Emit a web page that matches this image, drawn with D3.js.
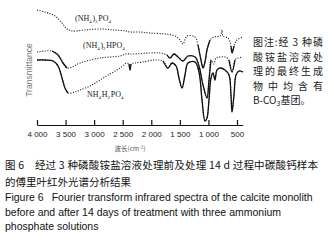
<!DOCTYPE html>
<html>
<head>
<meta charset="utf-8">
<script src="https://cdn.jsdelivr.net/npm/d3@7"></script>
<style>
  body { margin: 0; background: #fff; }
  svg { display: block; }
</style>
</head>
<body>
<div id="chart"></div>
<script>
// wavenumber (cm-1) and transmittance (arbitrary units)
const wnTop = [4000, 3860, 3685, 3562, 3475, 3387, 3160, 2897, 2635, 2442, 2372, 2197, 2022, 1760, 1585, 1497, 1445, 1375, 1235, 1182, 1130, 1095, 1060, 1025, 972, 902, 797, 762, 745, 657, 605, 587, 552, 500, 395];
const tTop  = [115, 113, 109, 102, 96, 94, 95, 96, 95, 94, 93, 93, 92, 91, 89, 85, 81, 89, 88, 80, 65, 57, 63, 75, 85, 88, 89, 95, 89, 87, 79, 72, 79, 85, 88];

const wnMid = [4000, 3860, 3737, 3632, 3545, 3475, 3387, 3247, 2897, 2547, 2442, 2320, 2022, 1847, 1725, 1672, 1602, 1532, 1445, 1357, 1235, 1165, 1095, 1025, 990, 955, 902, 867, 797, 710, 640, 587, 535, 482, 395];
const tMid  = [73, 74, 74, 70, 62, 57, 58, 62, 67, 69, 71, 71, 72, 72, 70, 67, 71, 68, 64, 69, 68, 59, 40, 27, 45, 65, 61, 67, 68, 68, 65, 53, 65, 67, 68];

const wnBot = [4000, 3860, 3720, 3632, 3562, 3510, 3457, 3335, 3247, 3072, 2897, 2722, 2547, 2425, 2390, 2372, 2355, 2285, 2145, 1935, 1795, 1707, 1637, 1567, 1515, 1462, 1410, 1357, 1235, 1165, 1112, 1060, 1025, 990, 955, 920, 885, 850, 797, 710, 640, 605, 587, 552, 517, 465, 395];
const tBot  = [65, 65, 64, 59, 47, 37, 32, 33, 35, 39, 45, 51, 57, 62, 61, 55, 61, 62, 63, 65, 64, 57, 62, 59, 47, 37, 50, 62, 63, 53, 25, 4, 7, 25, 47, 52, 45, 55, 57, 55, 50, 30, 13, 30, 50, 54, 53];

const tickValues = [4000, 3500, 3000, 2500, 2000, 1500, 1000, 500];
const tickLabels = ["4 000", "3 500", "3 000", "2 500", "2 000", "1 500", "1 000", "500"];

const noteLines = ["图注:经 3 种磷", "酸铵盐溶液处", "理的最终生成", "物 中 均 含 有"];
const captionCn = ["图 6\u3000经过 3 种磷酸铵盐溶液处理前及处理 14 d 过程中碳酸钙样本", "的傅里叶红外光谱分析结果"];
const captionEn = ["Figure 6\u2002 Fourier transform infrared spectra of the calcite monolith", "before and after 14 days of treatment with three ammonium", "phosphate solutions"];

const series = [
    {wn: wnTop, t: tTop, solid: [[1200, 960], [770, 750], [625, 545]]},
    {wn: wnMid, t: tMid, solid: [[3740, 3440], [1740, 940], [645, 530]]},
    {wn: wnBot, t: tBot, solid: [[4000, 3440], [2400, 2340], [1800, 395]]}
];

const width = 334, height = 243;

const svg = d3.select("#chart")
    .append("svg")
    .attr("width", width)
    .attr("height", height);

const x = d3.scaleLinear().domain([4000, 400]).range([37, 242.7]);
const y = d3.scaleLinear().domain([0, 120]).range([125, 5]);

const line = d3.line()
    .x(d => x(d[0]))
    .y(d => y(d[1]))
    .curve(d3.curveCatmullRom.alpha(0.5));

series.forEach(s => {
    const pts = s.wn.map((w, i) => [w, s.t[i]]);

    svg.append("path")
        .datum(pts)
        .attr("fill", "none")
        .attr("stroke", "#222")
        .attr("stroke-width", 1.1)
        .attr("stroke-dasharray", "1.1,1.5")
        .attr("d", line);

    s.solid.forEach(r => {
        const seg = pts.filter(p => p[0] <= r[0] && p[0] >= r[1]);
        svg.append("path")
            .datum(seg)
            .attr("fill", "none")
            .attr("stroke", "#111")
            .attr("stroke-width", 1.3)
            .attr("d", line);
    });
});

// x axis
const axis = svg.append("g")
    .attr("transform", "translate(0,125)")
    .call(d3.axisBottom(x)
        .tickValues(tickValues)
        .tickFormat((d, i) => tickLabels[i])
        .tickSizeInner(-5)
        .tickSizeOuter(0)
        .tickPadding(6));

axis.select(".domain").attr("stroke", "#111").attr("stroke-width", 1.2);
axis.selectAll(".tick line").attr("stroke", "#111").attr("stroke-width", 1.2);
axis.selectAll(".tick text")
    .style("font-family", "Arial, 'Liberation Sans', sans-serif")
    .style("font-size", "8px")
    .attr("fill", "#222");

const xl = svg.append("text")
    .attr("x", 130)
    .attr("y", 151)
    .attr("text-anchor", "middle")
    .style("font-family", "'Noto Sans CJK SC', sans-serif")
    .style("font-size", "6.5px")
    .attr("fill", "#555");
xl.append("tspan").text("波长(cm");
xl.append("tspan").attr("dy", -2.5).style("font-size", "4.5px").text("-1");
xl.append("tspan").attr("dy", 2.5).text(")");

svg.append("text")
    .attr("transform", "translate(32,70) rotate(-90)")
    .attr("text-anchor", "middle")
    .style("font-family", "Arial, 'Liberation Sans', sans-serif")
    .style("font-size", "8.5px")
    .attr("fill", "#777")
    .text("Transmittance");

// series labels
function chemLabel(px, py, parts){
    const t = svg.append("text")
        .attr("x", px).attr("y", py)
        .style("font-family", "'Liberation Serif', 'Times New Roman', serif")
        .style("font-size", "8px")
        .attr("fill", "#222");
    parts.forEach(p => {
        if (p.sub) {
            t.append("tspan").attr("dy", 2).style("font-size", "5px").text(p.s);
            t.append("tspan").attr("dy", -2).text("\u200a");
        } else {
            t.append("tspan").text(p.s);
        }
    });
}
chemLabel(75, 21, [{s:"(NH"}, {s:"4", sub:1}, {s:")"}, {s:"3", sub:1}, {s:"PO"}, {s:"4", sub:1}]);
chemLabel(83, 48, [{s:"(NH"}, {s:"4", sub:1}, {s:")"}, {s:"2", sub:1}, {s:"HPO"}, {s:"4", sub:1}]);
chemLabel(87, 97, [{s:"NH"}, {s:"4", sub:1}, {s:"H"}, {s:"2", sub:1}, {s:"PO"}, {s:"4", sub:1}]);

// note on the right
noteLines.forEach((d, i) => {
    svg.append("text")
        .attr("x", 253)
        .attr("y", 46 + i * 14.5)
        .attr("textLength", 70)
        .attr("lengthAdjust", "spacing")
        .style("font-family", "'Noto Sans CJK SC', sans-serif")
        .style("font-size", "10px")
        .attr("fill", "#222")
        .text(d);
});
const last = svg.append("text")
    .attr("x", 253)
    .attr("y", 46 + 4 * 14.5)
    .style("font-family", "'Noto Sans CJK SC', sans-serif")
    .style("font-size", "10px")
    .attr("fill", "#222");
last.append("tspan").text("B-CO");
last.append("tspan").attr("dy", 2).style("font-size", "7px").text("3");
last.append("tspan").attr("dy", -2).text("基团。");

// caption
captionCn.forEach((d, i) => {
    const t = svg.append("text")
        .attr("x", 5)
        .attr("y", 169 + i * 17)
        .style("font-family", "'Noto Sans CJK SC', sans-serif")
        .style("font-size", "10.5px")
        .attr("fill", "#111")
        .text(d);
    if (i === 0) t.attr("textLength", 313).attr("lengthAdjust", "spacing");
});
captionEn.forEach((d, i) => {
    svg.append("text")
        .attr("x", 5)
        .attr("y", 201 + i * 14.5)
        .style("font-family", "Arial, 'Liberation Sans', sans-serif")
        .style("font-size", "10.5px")
        .attr("fill", "#111")
        .text(d);
});
</script>
</body>
</html>
